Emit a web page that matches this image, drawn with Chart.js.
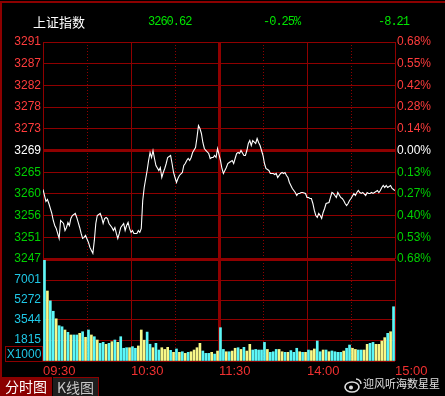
<!DOCTYPE html>
<html>
<head>
<meta charset="utf-8">
<script src="https://cdn.jsdelivr.net/npm/chart.js@4.4.0/dist/chart.umd.min.js"></script>
<style>
    body { margin: 0; background: #000; width: 445px; height: 396px; overflow: hidden; position: relative; font-family: "Liberation Sans", Arial, sans-serif; }
    canvas { position: absolute; left: 0; top: 0; }
    .abs { position: absolute; white-space: nowrap; line-height: 1; }
    .num { font-family: "Liberation Mono", monospace; font-size: 12px; letter-spacing: -1px; color: #00e600; top: 16px; }
</style>
</head>
<body>
<canvas id="price-chart" width="445" height="396"></canvas>
<canvas id="volume-chart" width="445" height="396"></canvas>

<!-- frame -->
<div class="abs" style="left:0;top:1px;width:445px;height:2px;background:#8c0000"></div>
<div class="abs" style="left:0;top:1px;width:2px;height:377px;background:#8c0000"></div>

<!-- header -->
<div class="abs" style="left:33px;top:15px;font-family:'Noto Sans CJK SC';font-size:13px;color:#fff">上证指数</div>
<div class="abs num" style="left:148px">3260.62</div>
<div class="abs num" style="left:263px">-0.25%</div>
<div class="abs num" style="left:378px">-8.21</div>

<!-- volume unit box -->
<div class="abs" style="left:5px;top:346px;width:36px;height:14px;border:1px solid #8c0000;color:#1fc8e6;font-size:12px;line-height:14px;text-align:center">X1000</div>

<!-- tabs -->
<div class="abs" style="left:0;top:377px;width:52px;height:19px;background:#8a0000;color:#fff;font-family:'Noto Sans CJK SC';font-size:14px;line-height:19px;text-align:center">分时图</div>
<div class="abs" style="left:53px;top:377px;width:45px;height:18px;background:#1e1e1e;border-top:1px solid #8c0000;border-right:1px solid #8c0000;color:#c8c8c8;font-family:'Noto Sans CJK SC';font-size:14px;line-height:19px;text-align:center">K线图</div>

<!-- watermark -->
<svg class="abs" style="left:344px;top:377px" width="18" height="16" viewBox="0 0 18 16">
    <ellipse cx="8" cy="10" rx="7" ry="5" fill="none" stroke="#ddd" stroke-width="1.6"/>
    <circle cx="7" cy="10.5" r="2" fill="#ddd"/>
    <path d="M12 2 a5 5 0 0 1 5 5" fill="none" stroke="#ddd" stroke-width="1.4"/>
</svg>
<div class="abs" style="left:363px;top:378px;font-family:'Noto Sans CJK SC';font-size:11px;color:#e0e0e0">迎风听海数星星</div>

<script>
// Reference values
const prevClose = 3268.83;
const priceStep = 4.44;
const priceLabels = ['3247', '3251', '3256', '3260', '3265', '3269', '3273', '3278', '3282', '3287', '3291'];
const pctLabels = ['0.68%', '0.53%', '0.40%', '0.27%', '0.13%', '0.00%', '0.14%', '0.28%', '0.42%', '0.55%', '0.68%'];
const timeTicks = [0, 60, 120, 180, 240];
const timeLabels = ['09:30', '10:30', '11:30', '14:00', '15:00'];
const gridMinutes = [0, 30, 60, 90, 120, 150, 180, 210, 240];
const gridKinds = ['solid', 'dot', 'solid', 'dot', 'thick', 'dot', 'solid', 'dot', 'solid'];
const volTicks = [0, 1815, 3544, 5272, 7001, 8730];
const volLabels = ['', '1815', '3544', '5272', '7001', ''];

// Minutes since 09:30 (lunch break removed) and index price
const priceMinutes = [
    0, 2, 3, 4, 6, 7, 8, 9, 10, 11, 12, 14, 15, 16, 17, 18, 19, 20, 22, 23,
    24, 25, 26, 27, 28, 29, 31, 32, 33, 34, 35, 36, 37, 39, 40, 41, 42, 43, 44, 45,
    47, 48, 49, 50, 51, 52, 53, 55, 56, 57, 58, 59, 60, 61, 62, 64, 65, 66, 67, 68,
    69, 71, 72, 73, 74, 75, 76, 77, 79, 80, 81, 82, 83, 84, 85, 87, 88, 89, 90, 91,
    92, 93, 95, 96, 97, 98, 99, 100, 101, 102, 104, 105, 106, 107, 108, 109, 110, 111, 113, 114,
    115, 116, 117, 118, 119, 121, 122, 123, 124, 125, 126, 127, 129, 130, 131, 132, 133, 134, 135, 137,
    138, 139, 140, 141, 142, 143, 145, 146, 147, 148, 149, 150, 151, 152, 154, 155, 156, 157, 158, 159,
    160, 162, 163, 164, 165, 166, 167, 168, 170, 171, 172, 173, 174, 175, 176, 177, 179, 180, 181, 182,
    183, 184, 185, 186, 187, 188, 189, 190, 191, 192, 193, 195, 196, 197, 198, 199, 200, 201, 203, 204,
    205, 206, 207, 208, 209, 210, 212, 213, 214, 215, 216, 217, 218, 220, 221, 222, 223, 224, 225, 226,
    228, 229, 230, 231, 232, 233, 234, 235, 237, 238, 239, 240
];
const prices = [
    3260.85, 3258.40, 3258.81, 3257.99, 3255.95, 3254.51, 3253.49, 3252.88, 3251.86, 3250.83,
    3254.51, 3253.90, 3252.47, 3253.08, 3254.11, 3253.49, 3254.92, 3255.53, 3255.95, 3255.13,
    3254.11, 3253.08, 3251.86, 3250.83, 3251.04, 3251.45, 3250.02, 3249.00, 3248.38, 3247.77,
    3250.43, 3253.90, 3255.53, 3255.95, 3255.13, 3253.90, 3254.92, 3255.13, 3254.92, 3253.90,
    3253.08, 3252.47, 3253.08, 3251.86, 3250.83, 3251.86, 3253.08, 3253.90, 3252.47, 3253.49,
    3254.11, 3252.88, 3252.06, 3252.47, 3251.86, 3251.86, 3252.47, 3252.06, 3252.88, 3258.61,
    3261.26, 3264.74, 3266.79, 3268.42, 3267.40, 3268.83, 3267.19, 3265.76, 3264.74, 3265.35,
    3263.31, 3264.33, 3265.15, 3266.17, 3267.40, 3267.81, 3266.17, 3264.33, 3263.31, 3262.29,
    3263.10, 3263.72, 3264.33, 3265.76, 3266.17, 3266.79, 3267.19, 3266.79, 3267.40, 3268.42,
    3269.44, 3271.49, 3273.94, 3273.33, 3272.31, 3270.47, 3269.24, 3268.83, 3268.22, 3267.19,
    3267.40, 3267.40, 3267.81, 3267.40, 3269.24, 3266.79, 3265.15, 3264.13, 3264.74, 3265.35,
    3266.17, 3266.38, 3266.79, 3266.17, 3267.19, 3268.22, 3268.42, 3268.22, 3268.83, 3267.81,
    3267.81, 3268.83, 3270.26, 3270.88, 3269.85, 3270.88, 3270.26, 3271.28, 3270.47, 3269.85,
    3268.83, 3267.81, 3266.17, 3265.15, 3264.74, 3264.13, 3264.13, 3264.13, 3263.92, 3264.13,
    3263.31, 3264.13, 3264.33, 3264.13, 3264.33, 3263.72, 3263.31, 3262.29, 3261.06, 3260.65,
    3260.24, 3259.63, 3260.04, 3260.04, 3260.24, 3260.24, 3260.04, 3259.22, 3259.22, 3259.01,
    3259.01, 3257.99, 3256.56, 3255.53, 3255.13, 3255.95, 3255.53, 3254.92, 3256.15, 3256.97,
    3257.99, 3258.20, 3259.22, 3260.24, 3260.04, 3259.63, 3259.22, 3260.24, 3259.22, 3259.01,
    3258.61, 3257.99, 3257.58, 3257.99, 3258.61, 3259.01, 3260.04, 3259.63, 3260.24, 3260.65,
    3260.24, 3260.04, 3260.24, 3259.63, 3260.24, 3260.04, 3260.04, 3260.24, 3260.04, 3260.24,
    3260.65, 3260.24, 3260.65, 3261.26, 3261.67, 3261.26, 3261.67, 3261.26, 3261.67, 3261.06,
    3260.85, 3260.62
];

// Volume (x1000), one bar per two minutes; 1 = cyan bar, 0 = yellow bar
const volumes = [
    8700, 6050, 5200, 4300, 3650, 3050, 2960, 2680, 2480, 2250,
    2250, 2250, 2390, 2530, 2050, 2680, 2250, 2100, 1815, 1530,
    1615, 1440, 1530, 1670, 1815, 1615, 2100, 1100, 1150, 1150,
    1240, 1100, 1300, 2680, 1800, 2500, 1450, 1150, 1530, 950,
    1150, 1000, 1180, 920, 750, 1040, 750, 800, 660, 750,
    800, 950, 1150, 1530, 865, 660, 660, 750, 600, 860,
    2880, 1000, 800, 800, 860, 1100, 1150, 1000, 1180, 860,
    1440, 950, 1000, 950, 950, 1610, 1000, 750, 800, 1000,
    1000, 800, 750, 750, 900, 750, 1100, 800, 750, 750,
    950, 900, 1040, 1730, 800, 950, 950, 800, 870, 800,
    750, 750, 860, 1100, 1380, 1100, 1000, 950, 950, 950,
    1440, 1530, 1610, 1440, 1440, 1730, 2020, 2390, 2530, 4690
];
const volumeUp = [
    1, 0, 1, 1, 0, 1, 1, 0, 1, 0,
    1, 1, 0, 1, 0, 1, 0, 1, 0, 1,
    1, 0, 1, 0, 1, 0, 1, 1, 1, 0,
    1, 1, 0, 0, 0, 1, 1, 0, 1, 1,
    0, 0, 0, 1, 0, 1, 0, 1, 0, 1,
    0, 0, 0, 0, 1, 1, 1, 0, 1, 0,
    1, 1, 0, 1, 0, 0, 1, 0, 1, 0,
    0, 1, 1, 1, 1, 1, 0, 1, 1, 1,
    0, 0, 1, 0, 1, 1, 1, 0, 1, 0,
    1, 0, 0, 1, 1, 0, 1, 0, 1, 1,
    1, 1, 0, 1, 1, 0, 0, 1, 1, 0,
    0, 1, 1, 0, 0, 0, 0, 1, 0, 1
];

const GRID = '#8f0000';
const RED = '#ff3c3c';
const GREEN = '#00d000';
const CYAN = '#5cf8f8';
const YELLOW = '#f8f888';
const VOL_LABEL = '#1fc8e6';

Chart.defaults.font.family = '"Liberation Sans", Arial, sans-serif';
Chart.defaults.font.size = 12;

const priceTickValues = priceLabels.map((_, i) => prevClose + (i - 5) * priceStep);

function labelColor(index) {
    if (index === 5) return '#ffffff';
    return index > 5 ? RED : GREEN;
}

// Vertical time grid (solid / dotted / thick at the lunch break)
const timeGrid = {
    id: 'timeGrid',
    beforeDatasetsDraw(chart) {
        const { ctx, chartArea, scales: { x } } = chart;
        ctx.save();
        ctx.strokeStyle = GRID;
        gridMinutes.forEach((m, i) => {
            const kind = gridKinds[i];
            const px = Math.round(x.getPixelForValue(m)) + 0.5;
            ctx.lineWidth = kind === 'thick' ? 3 : 1;
            ctx.setLineDash(kind === 'dot' ? [1, 2] : []);
            ctx.beginPath();
            ctx.moveTo(px, chartArea.top);
            ctx.lineTo(px, chartArea.bottom);
            ctx.stroke();
        });
        ctx.restore();
    }
};

// Price chart
new Chart(document.getElementById('price-chart').getContext('2d'), {
    type: 'line',
    data: {
        datasets: [{
            data: prices.map((p, i) => ({ x: priceMinutes[i], y: p })),
            borderColor: '#ffffff',
            borderWidth: 1.1,
            pointRadius: 0,
            tension: 0,
            fill: false
        }]
    },
    options: {
        responsive: false,
        animation: false,
        layout: { padding: { top: 42, bottom: 137, left: 0, right: 0 } },
        plugins: { legend: { display: false }, tooltip: { enabled: false } },
        scales: {
            x: { type: 'linear', min: 0, max: 240, display: false, offset: false },
            y: {
                position: 'left',
                min: priceTickValues[0],
                max: priceTickValues[priceTickValues.length - 1],
                afterFit: s => { s.width = 43; },
                afterBuildTicks: s => { s.ticks = priceTickValues.map(v => ({ value: v })); },
                ticks: {
                    autoSkip: false,
                    padding: 2,
                    callback: (v, i) => priceLabels[i],
                    color: c => labelColor(c.index)
                },
                grid: {
                    color: GRID,
                    drawTicks: false,
                    lineWidth: c => c.index === 5 ? 3 : (c.index === 0 ? 2 : 1)
                },
                border: { display: false }
            },
            yr: {
                position: 'right',
                min: priceTickValues[0],
                max: priceTickValues[priceTickValues.length - 1],
                afterFit: s => { s.width = 50; },
                afterBuildTicks: s => { s.ticks = priceTickValues.map(v => ({ value: v })); },
                ticks: {
                    autoSkip: false,
                    padding: 2,
                    callback: (v, i) => pctLabels[i],
                    color: c => labelColor(c.index)
                },
                grid: { drawOnChartArea: false, drawTicks: false },
                border: { display: false }
            }
        }
    },
    plugins: [timeGrid]
});

// Volume chart
const volMinutes = volumes.map((_, i) => 2 * i + 1);

new Chart(document.getElementById('volume-chart').getContext('2d'), {
    type: 'bar',
    data: {
        datasets: [{
            data: volumes.map((v, i) => ({ x: volMinutes[i], y: v })),
            backgroundColor: volumeUp.map(u => u ? CYAN : YELLOW),
            borderWidth: 0,
            barThickness: 2
        }]
    },
    options: {
        responsive: false,
        animation: false,
        layout: { padding: { top: 260, bottom: 0, left: 0, right: 50 } },
        plugins: { legend: { display: false }, tooltip: { enabled: false } },
        scales: {
            x: {
                type: 'linear',
                min: 0,
                max: 240,
                offset: false,
                afterFit: s => { s.height = 35; },
                afterBuildTicks: s => { s.ticks = timeTicks.map(v => ({ value: v })); },
                ticks: {
                    autoSkip: false,
                    maxRotation: 0,
                    align: 'start',
                    padding: 3,
                    color: '#f03030',
                    font: { size: 13 },
                    callback: (v, i) => timeLabels[i]
                },
                grid: { display: false, drawTicks: false },
                border: { display: false }
            },
            y: {
                position: 'left',
                min: 0,
                max: 8730,
                afterFit: s => { s.width = 43; },
                afterBuildTicks: s => { s.ticks = volTicks.map(v => ({ value: v })); },
                ticks: {
                    autoSkip: false,
                    padding: 2,
                    color: VOL_LABEL,
                    callback: (v, i) => volLabels[i]
                },
                grid: { color: GRID, drawTicks: false, lineWidth: 1 },
                border: { display: false }
            }
        }
    },
    plugins: [timeGrid]
});
</script>
</body>
</html>
